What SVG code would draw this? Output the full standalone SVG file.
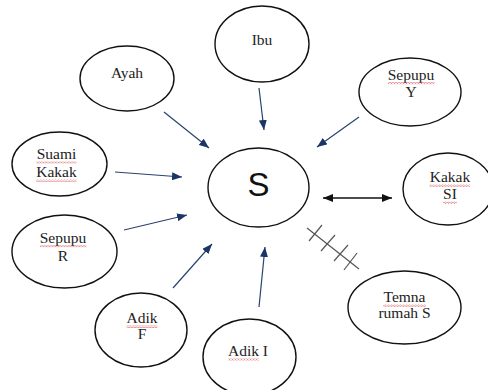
<svg xmlns="http://www.w3.org/2000/svg" width="488" height="390" viewBox="0 0 488 390">
<style>
.node ellipse{fill:#fff;stroke:#111;stroke-width:1.4}
.lbl{font-family:"Liberation Serif","Times New Roman",serif;font-size:15.5px;fill:#222;text-anchor:middle}
.big{font-family:"Liberation Sans",Arial,sans-serif;font-size:33px;fill:#111;text-anchor:middle}
.arr{stroke:#2a4270;stroke-width:1.2;fill:none;marker-end:url(#ah)}
.dbl{stroke:#111;stroke-width:1.3;fill:none;marker-start:url(#bhs);marker-end:url(#bh)}
.hatch{stroke:#555;stroke-width:1.2;fill:none}
.sq{fill:url(#wavy)}
</style>
<defs>
<marker id="ah" viewBox="0 0 10 8" refX="10" refY="4" markerWidth="10" markerHeight="8" markerUnits="userSpaceOnUse" orient="auto">
<path d="M0,0 L10,4 L0,8 Z" fill="#1b3566"/>
</marker>
<marker id="bh" viewBox="0 0 10 8" refX="10" refY="4" markerWidth="10" markerHeight="8" markerUnits="userSpaceOnUse" orient="auto">
<path d="M0,0 L10,4 L0,8 Z" fill="#111"/>
</marker>
<marker id="bhs" viewBox="0 0 10 8" refX="0" refY="4" markerWidth="10" markerHeight="8" markerUnits="userSpaceOnUse" orient="auto">
<path d="M10,0 L0,4 L10,8 Z" fill="#111"/>
</marker>
<pattern id="wavy" width="3" height="2.4" patternUnits="userSpaceOnUse">
<polyline points="0,0.4 1.5,2 3,0.4" fill="none" stroke="#d23a3a" stroke-width="0.7"/>
</pattern>
</defs>

<g id="connectors">
<line class="arr" x1="164" y1="112" x2="209" y2="148"/>
<line class="arr" x1="259" y1="88" x2="264" y2="130"/>
<line class="arr" x1="359" y1="117" x2="317" y2="147"/>
<line class="arr" x1="115" y1="172" x2="182" y2="177"/>
<line class="arr" x1="124" y1="230" x2="187" y2="215"/>
<line class="arr" x1="173" y1="288" x2="212" y2="244"/>
<line class="arr" x1="259" y1="307" x2="265" y2="247"/>
<line class="dbl" x1="323" y1="198" x2="392" y2="198"/>
<g id="hatch">
<line class="hatch" x1="307" y1="228" x2="359" y2="269"/>
<line class="hatch" x1="309" y1="241" x2="322" y2="225"/>
<line class="hatch" x1="321" y1="251" x2="335" y2="235"/>
<line class="hatch" x1="334" y1="261" x2="348" y2="245"/>
<line class="hatch" x1="344" y1="270" x2="357" y2="253"/>
</g>
</g>

<g id="node-S" class="node">
<ellipse cx="258.5" cy="187.5" rx="50.5" ry="39.5"/>
<text class="big" x="258.5" y="196">S</text>
</g>
<g id="node-ayah" class="node">
<ellipse cx="127" cy="78.5" rx="47" ry="32.5"/>
<text class="lbl" x="127" y="78">Ayah</text>
</g>
<g id="node-ibu" class="node">
<ellipse cx="262" cy="44" rx="47" ry="38"/>
<text class="lbl" x="262" y="45">Ibu</text>
</g>
<g id="node-sepupu-y" class="node">
<ellipse cx="410" cy="92" rx="51" ry="34"/>
<text class="lbl" x="411" y="80">Sepupu</text>
<text class="lbl" x="411" y="97">Y</text>
<rect class="sq" x="388" y="82" width="46.5" height="2.4"/>
</g>
<g id="node-suami-kakak" class="node">
<ellipse cx="59.5" cy="164" rx="47.5" ry="32"/>
<text class="lbl" x="56.5" y="159">Suami</text>
<text class="lbl" x="56.5" y="177">Kakak</text>
<rect class="sq" x="36.5" y="161.5" width="40" height="2.4"/>
<rect class="sq" x="36" y="179.5" width="40.5" height="2.4"/>
</g>
<g id="node-kakak-si" class="node">
<ellipse cx="448" cy="189" rx="45" ry="36"/>
<text class="lbl" x="450" y="182">Kakak</text>
<text class="lbl" x="450" y="199">SI</text>
<rect class="sq" x="429.5" y="184.5" width="40.5" height="2.4"/>
<rect class="sq" x="443" y="201.5" width="14" height="2.4"/>
</g>
<g id="node-sepupu-r" class="node">
<ellipse cx="64.5" cy="251.5" rx="52.5" ry="36.5"/>
<text class="lbl" x="63" y="243">Sepupu</text>
<text class="lbl" x="63" y="261">R</text>
<rect class="sq" x="40" y="245" width="46.5" height="2.4"/>
</g>
<g id="node-adik-f" class="node">
<ellipse cx="141" cy="330" rx="46" ry="37"/>
<text class="lbl" x="142" y="323">Adik</text>
<text class="lbl" x="142" y="339">F</text>
<rect class="sq" x="126.5" y="325.5" width="31" height="2.4"/>
</g>
<g id="node-adik-i" class="node">
<ellipse cx="249.5" cy="357" rx="46.5" ry="38"/>
<text class="lbl" x="248" y="356">Adik I</text>
<rect class="sq" x="228" y="358.5" width="31" height="2.4"/>
</g>
<g id="node-temna" class="node">
<ellipse cx="404.5" cy="307.5" rx="56.5" ry="36.5"/>
<text class="lbl" x="404.5" y="302">Temna</text>
<text class="lbl" x="404.5" y="318">rumah S</text>
<rect class="sq" x="383" y="304.5" width="43" height="2.4"/>
</g>
</svg>
